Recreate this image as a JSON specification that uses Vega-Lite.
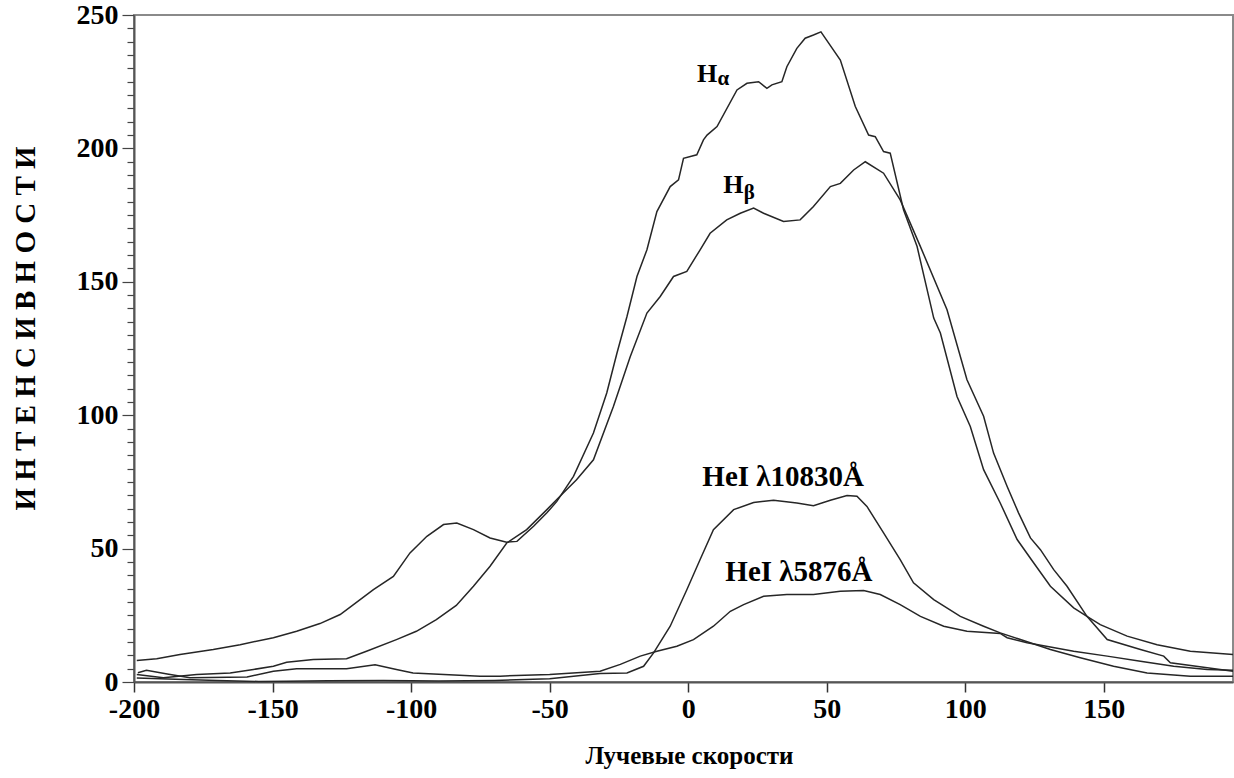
{
  "$schema": "https://vega.github.io/schema/vega-lite/v6.json",
  "width": 1099,
  "height": 667,
  "autosize": {"type": "none"},
  "padding": {"left": 134, "top": 15, "right": 1, "bottom": 96},
  "background": "white",
  "config": {
    "view": {"stroke": "#8a8a8a", "strokeWidth": 2},
    "font": "Liberation Serif"
  },
  "datasets": {
    "spectra": [
      {"line": "Ha", "v": -199, "i": 8.1}, {"line": "Ha", "v": -191.8, "i": 8.7}, {"line": "Ha", "v": -183.4, "i": 10.3},
      {"line": "Ha", "v": -171.4, "i": 12.2}, {"line": "Ha", "v": -161.7, "i": 14}, {"line": "Ha", "v": -149.7, "i": 16.6},
      {"line": "Ha", "v": -141.3, "i": 19}, {"line": "Ha", "v": -132.9, "i": 21.9}, {"line": "Ha", "v": -125.6, "i": 25.3},
      {"line": "Ha", "v": -120.8, "i": 29}, {"line": "Ha", "v": -113.6, "i": 34.6}, {"line": "Ha", "v": -106.4, "i": 39.6},
      {"line": "Ha", "v": -100.4, "i": 48.4}, {"line": "Ha", "v": -94.3, "i": 54.6}, {"line": "Ha", "v": -88.3, "i": 59},
      {"line": "Ha", "v": -83.5, "i": 59.6}, {"line": "Ha", "v": -77.5, "i": 57.1}, {"line": "Ha", "v": -71.5, "i": 54},
      {"line": "Ha", "v": -65.5, "i": 52.4}, {"line": "Ha", "v": -61.8, "i": 52.7}, {"line": "Ha", "v": -55.8, "i": 58.4},
      {"line": "Ha", "v": -51, "i": 63.4}, {"line": "Ha", "v": -47.4, "i": 67.7}, {"line": "Ha", "v": -43.8, "i": 73.3},
      {"line": "Ha", "v": -41.4, "i": 77.1}, {"line": "Ha", "v": -34.2, "i": 93.3}, {"line": "Ha", "v": -29.4, "i": 108.3},
      {"line": "Ha", "v": -25.7, "i": 123.3}, {"line": "Ha", "v": -22.1, "i": 137}, {"line": "Ha", "v": -18.5, "i": 152},
      {"line": "Ha", "v": -14.9, "i": 162}, {"line": "Ha", "v": -11.3, "i": 176.3}, {"line": "Ha", "v": -6.5, "i": 185.7},
      {"line": "Ha", "v": -3.5, "i": 188.2}, {"line": "Ha", "v": -1.7, "i": 196.3}, {"line": "Ha", "v": 3.1, "i": 197.6},
      {"line": "Ha", "v": 5.5, "i": 203.2}, {"line": "Ha", "v": 6.8, "i": 205}, {"line": "Ha", "v": 10.4, "i": 208.2},
      {"line": "Ha", "v": 17.6, "i": 221.9}, {"line": "Ha", "v": 21.2, "i": 224.4}, {"line": "Ha", "v": 25.4, "i": 225},
      {"line": "Ha", "v": 28.4, "i": 222.5}, {"line": "Ha", "v": 30.2, "i": 223.8}, {"line": "Ha", "v": 33.8, "i": 225},
      {"line": "Ha", "v": 35.6, "i": 230.6}, {"line": "Ha", "v": 39.2, "i": 237.5}, {"line": "Ha", "v": 42.2, "i": 241.3},
      {"line": "Ha", "v": 45.2, "i": 242.5}, {"line": "Ha", "v": 47.9, "i": 243.7}, {"line": "Ha", "v": 54.9, "i": 233.1},
      {"line": "Ha", "v": 60.3, "i": 215.7}, {"line": "Ha", "v": 65.1, "i": 205}, {"line": "Ha", "v": 67.5, "i": 204.4},
      {"line": "Ha", "v": 70.5, "i": 198.8}, {"line": "Ha", "v": 72.9, "i": 198.2}, {"line": "Ha", "v": 77.7, "i": 177},
      {"line": "Ha", "v": 82.6, "i": 163.2}, {"line": "Ha", "v": 88.6, "i": 136.4}, {"line": "Ha", "v": 91, "i": 130.8},
      {"line": "Ha", "v": 97, "i": 107}, {"line": "Ha", "v": 101.8, "i": 95.8}, {"line": "Ha", "v": 106.6, "i": 79.6},
      {"line": "Ha", "v": 112.6, "i": 67.1}, {"line": "Ha", "v": 118.7, "i": 53.4}, {"line": "Ha", "v": 124.7, "i": 44.6},
      {"line": "Ha", "v": 130.7, "i": 35.9}, {"line": "Ha", "v": 139.1, "i": 27.8}, {"line": "Ha", "v": 143.9, "i": 24.6},
      {"line": "Ha", "v": 148.7, "i": 21.5}, {"line": "Ha", "v": 158.4, "i": 17.2}, {"line": "Ha", "v": 169.2, "i": 14},
      {"line": "Ha", "v": 181.2, "i": 11.5}, {"line": "Ha", "v": 196.6, "i": 10.3},

      {"line": "Hb", "v": -199, "i": 2.8}, {"line": "Hb", "v": -189.4, "i": 1.6}, {"line": "Hb", "v": -177.4, "i": 2.8},
      {"line": "Hb", "v": -165.3, "i": 3.4}, {"line": "Hb", "v": -156.9, "i": 4.7}, {"line": "Hb", "v": -149.7, "i": 5.9},
      {"line": "Hb", "v": -144.9, "i": 7.4}, {"line": "Hb", "v": -135.3, "i": 8.4}, {"line": "Hb", "v": -123.3, "i": 8.7},
      {"line": "Hb", "v": -116.1, "i": 11.5}, {"line": "Hb", "v": -105.3, "i": 15.9}, {"line": "Hb", "v": -98.1, "i": 19},
      {"line": "Hb", "v": -90.9, "i": 23.4}, {"line": "Hb", "v": -83.7, "i": 28.7}, {"line": "Hb", "v": -77.5, "i": 35.9},
      {"line": "Hb", "v": -71.5, "i": 43.4}, {"line": "Hb", "v": -65.5, "i": 52.1}, {"line": "Hb", "v": -58.3, "i": 57.1},
      {"line": "Hb", "v": -51, "i": 64.6}, {"line": "Hb", "v": -45, "i": 70.9}, {"line": "Hb", "v": -40.3, "i": 75.8},
      {"line": "Hb", "v": -34.2, "i": 83.3}, {"line": "Hb", "v": -27, "i": 103.3}, {"line": "Hb", "v": -20.9, "i": 122},
      {"line": "Hb", "v": -14.9, "i": 138.3}, {"line": "Hb", "v": -10.1, "i": 144.5}, {"line": "Hb", "v": -5.3, "i": 152},
      {"line": "Hb", "v": -0.5, "i": 153.9}, {"line": "Hb", "v": 4.3, "i": 162}, {"line": "Hb", "v": 7.9, "i": 168.2},
      {"line": "Hb", "v": 13.9, "i": 173.2}, {"line": "Hb", "v": 18.8, "i": 175.7}, {"line": "Hb", "v": 23.6, "i": 177.6},
      {"line": "Hb", "v": 27.2, "i": 175.7}, {"line": "Hb", "v": 34.4, "i": 172.6}, {"line": "Hb", "v": 40.4, "i": 173.2},
      {"line": "Hb", "v": 45.2, "i": 178.2}, {"line": "Hb", "v": 51.3, "i": 185.7}, {"line": "Hb", "v": 54.9, "i": 186.9},
      {"line": "Hb", "v": 59.7, "i": 191.9}, {"line": "Hb", "v": 63.9, "i": 195}, {"line": "Hb", "v": 70.5, "i": 190.7},
      {"line": "Hb", "v": 76.5, "i": 180.7}, {"line": "Hb", "v": 83.8, "i": 163.2}, {"line": "Hb", "v": 93.4, "i": 139.5},
      {"line": "Hb", "v": 100.6, "i": 113.3}, {"line": "Hb", "v": 106.6, "i": 99.6}, {"line": "Hb", "v": 110.2, "i": 85.8},
      {"line": "Hb", "v": 115.1, "i": 73.3}, {"line": "Hb", "v": 119.2, "i": 63.4}, {"line": "Hb", "v": 123.5, "i": 54},
      {"line": "Hb", "v": 127.1, "i": 49.6}, {"line": "Hb", "v": 131.9, "i": 42.1}, {"line": "Hb", "v": 136.7, "i": 35.9},
      {"line": "Hb", "v": 143.9, "i": 24.6}, {"line": "Hb", "v": 151.2, "i": 15.9}, {"line": "Hb", "v": 163.2, "i": 12.2},
      {"line": "Hb", "v": 171.6, "i": 9.7}, {"line": "Hb", "v": 174, "i": 7.2}, {"line": "Hb", "v": 187.3, "i": 5.3},
      {"line": "Hb", "v": 196.6, "i": 4},

      {"line": "He10830", "v": -199, "i": 1.5}, {"line": "He10830", "v": -185, "i": 1}, {"line": "He10830", "v": -170, "i": 0.6},
      {"line": "He10830", "v": -155, "i": 0.2}, {"line": "He10830", "v": -145, "i": 0.3}, {"line": "He10830", "v": -130, "i": 0.5},
      {"line": "He10830", "v": -110, "i": 0.6}, {"line": "He10830", "v": -90, "i": 0.4}, {"line": "He10830", "v": -70, "i": 0.6},
      {"line": "He10830", "v": -50, "i": 1.2}, {"line": "He10830", "v": -31.8, "i": 3.2}, {"line": "He10830", "v": -22.1, "i": 3.4},
      {"line": "He10830", "v": -16.1, "i": 5.9}, {"line": "He10830", "v": -12.5, "i": 10.9}, {"line": "He10830", "v": -6.5, "i": 20.9},
      {"line": "He10830", "v": -0.5, "i": 34.6}, {"line": "He10830", "v": 4.3, "i": 45.9}, {"line": "He10830", "v": 9.1, "i": 57.1},
      {"line": "He10830", "v": 16.4, "i": 64.6}, {"line": "He10830", "v": 23.6, "i": 67.3}, {"line": "He10830", "v": 30.8, "i": 68.1},
      {"line": "He10830", "v": 39.2, "i": 67.1}, {"line": "He10830", "v": 45.2, "i": 66.1}, {"line": "He10830", "v": 51.3, "i": 68.1},
      {"line": "He10830", "v": 57.3, "i": 69.9}, {"line": "He10830", "v": 60.9, "i": 69.6}, {"line": "He10830", "v": 64.5, "i": 65.8},
      {"line": "He10830", "v": 70.5, "i": 55.9}, {"line": "He10830", "v": 76.5, "i": 45.9}, {"line": "He10830", "v": 81.3, "i": 37.2},
      {"line": "He10830", "v": 88.6, "i": 30.9}, {"line": "He10830", "v": 98.2, "i": 24.6}, {"line": "He10830", "v": 106.6, "i": 20.9},
      {"line": "He10830", "v": 112.6, "i": 18.4}, {"line": "He10830", "v": 119.9, "i": 15.9}, {"line": "He10830", "v": 130.7, "i": 12.2},
      {"line": "He10830", "v": 141.5, "i": 9.1}, {"line": "He10830", "v": 153.5, "i": 5.9}, {"line": "He10830", "v": 165.6, "i": 3.4},
      {"line": "He10830", "v": 181.2, "i": 2.2}, {"line": "He10830", "v": 196.6, "i": 2.2},

      {"line": "He5876", "v": -198.6, "i": 3.5}, {"line": "He5876", "v": -195.5, "i": 4.4}, {"line": "He5876", "v": -188, "i": 3},
      {"line": "He5876", "v": -179.8, "i": 1.6}, {"line": "He5876", "v": -159.2, "i": 1.9}, {"line": "He5876", "v": -149.7, "i": 4},
      {"line": "He5876", "v": -141.3, "i": 5}, {"line": "He5876", "v": -123.3, "i": 5}, {"line": "He5876", "v": -113, "i": 6.5},
      {"line": "He5876", "v": -105.3, "i": 4.7}, {"line": "He5876", "v": -99.3, "i": 3.4}, {"line": "He5876", "v": -75.1, "i": 2.2},
      {"line": "He5876", "v": -67.9, "i": 2.2}, {"line": "He5876", "v": -50, "i": 2.8}, {"line": "He5876", "v": -31.8, "i": 4},
      {"line": "He5876", "v": -24.5, "i": 6.6}, {"line": "He5876", "v": -17.3, "i": 9.7}, {"line": "He5876", "v": -11.3, "i": 11.5},
      {"line": "He5876", "v": -4.1, "i": 13.4}, {"line": "He5876", "v": 1.9, "i": 15.9}, {"line": "He5876", "v": 9.1, "i": 20.9},
      {"line": "He5876", "v": 15.2, "i": 26.5}, {"line": "He5876", "v": 20, "i": 29}, {"line": "He5876", "v": 27.2, "i": 32.1},
      {"line": "He5876", "v": 35.6, "i": 32.8}, {"line": "He5876", "v": 45.2, "i": 32.8}, {"line": "He5876", "v": 54.9, "i": 34},
      {"line": "He5876", "v": 63.3, "i": 34.3}, {"line": "He5876", "v": 69.3, "i": 32.8}, {"line": "He5876", "v": 76.5, "i": 29},
      {"line": "He5876", "v": 83.8, "i": 24.6}, {"line": "He5876", "v": 92.2, "i": 20.9}, {"line": "He5876", "v": 100.6, "i": 19},
      {"line": "He5876", "v": 112.6, "i": 18.2}, {"line": "He5876", "v": 115.1, "i": 16.6}, {"line": "He5876", "v": 122.3, "i": 14.7},
      {"line": "He5876", "v": 139.1, "i": 11.5}, {"line": "He5876", "v": 151.2, "i": 9.7}, {"line": "He5876", "v": 163.2, "i": 7.8},
      {"line": "He5876", "v": 175.2, "i": 5.9}, {"line": "He5876", "v": 187.3, "i": 4.7}, {"line": "He5876", "v": 196.6, "i": 4.4}
    ],
    "labels": [
      {"role": "main", "text": "H", "v": 3.2, "i": 224.9},
      {"role": "sub", "text": "α", "v": 10.6, "i": 223.6},
      {"role": "main", "text": "H", "v": 12.6, "i": 183.3},
      {"role": "sub", "text": "β", "v": 20.0, "i": 180.9},
      {"role": "he", "text": "HeI λ10830Å", "v": 5.1, "i": 73.3},
      {"role": "he", "text": "HeI λ5876Å", "v": 13.4, "i": 37.8}
    ]
  },
  "encoding": {
    "x": {
      "field": "v", "type": "quantitative",
      "scale": {"domain": [-200, 196.6], "nice": false, "zero": false},
      "axis": {
        "values": [-200, -150, -100, -50, 0, 50, 100, 150],
        "labelExpr": "(datum.value < 0 ? '-' : '') + abs(datum.value)",
        "grid": false,
        "tickSize": 10, "tickColor": "#333", "tickWidth": 1.5,
        "domainColor": "#555", "domainWidth": 2,
        "labelFont": "Liberation Serif", "labelFontWeight": "bold", "labelFontSize": 28, "labelColor": "#000",
        "labelPadding": 3, "labelFlush": false, "labelOverlap": false,
        "title": "Лучевые скорости",
        "titleFont": "Liberation Serif", "titleFontWeight": "bold", "titleFontSize": 25, "titleColor": "#000",
        "titlePadding": 20, "titleX": 555, "titleAlign": "center"
      }
    },
    "y": {
      "field": "i", "type": "quantitative",
      "scale": {"domain": [0, 250], "nice": false},
      "axis": {
        "values": [0,5,10,15,20,25,30,35,40,45,50,55,60,65,70,75,80,85,90,95,100,105,110,115,120,125,130,135,140,145,150,155,160,165,170,175,180,185,190,195,200,205,210,215,220,225,230,235,240,245,250],
        "labelExpr": "datum.value % 50 === 0 ? datum.label : ''",
        "grid": false,
        "tickSize": {"condition": {"test": "datum.value % 50 === 0", "value": 12}, "value": 7},
        "tickColor": "#444", "tickWidth": 1.2,
        "domainColor": "#555", "domainWidth": 2,
        "labelFont": "Liberation Serif", "labelFontWeight": "bold", "labelFontSize": 28, "labelColor": "#000",
        "labelPadding": 4, "labelOverlap": false, "labelFlush": false,
        "title": "И Н Т Е Н С И В Н О С Т И",
        "titleFont": "Liberation Serif", "titleFontWeight": "bold", "titleFontSize": 29, "titleColor": "#000",
        "titleAngle": -90, "titleAlign": "center", "titleBaseline": "middle",
        "titleX": -109, "titleY": 313
      }
    }
  },
  "layer": [
    {
      "data": {"name": "spectra"},
      "mark": {"type": "line", "color": "#262626", "strokeWidth": 1.5},
      "encoding": {"detail": {"field": "line"}}
    },
    {
      "data": {"name": "labels"},
      "transform": [{"filter": "datum.role === 'main'"}],
      "mark": {"type": "text", "align": "left", "baseline": "alphabetic", "font": "Liberation Serif", "fontWeight": "bold", "fontSize": 26, "color": "#000"},
      "encoding": {"text": {"field": "text"}}
    },
    {
      "data": {"name": "labels"},
      "transform": [{"filter": "datum.role === 'sub'"}],
      "mark": {"type": "text", "align": "left", "baseline": "alphabetic", "font": "Liberation Serif", "fontWeight": "bold", "fontSize": 21, "color": "#000"},
      "encoding": {"text": {"field": "text"}}
    },
    {
      "data": {"name": "labels"},
      "transform": [{"filter": "datum.role === 'he'"}],
      "mark": {"type": "text", "align": "left", "baseline": "alphabetic", "font": "Liberation Serif", "fontWeight": "bold", "fontSize": 29, "color": "#000"},
      "encoding": {"text": {"field": "text"}}
    }
  ]
}
